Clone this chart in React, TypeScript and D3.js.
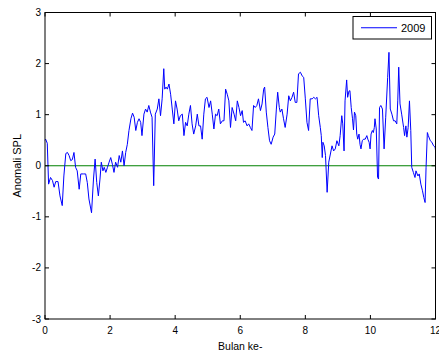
import React from "react";
import * as d3 from "d3";

// Monthly index (0–12) and SPL anomaly for 2009
const months: number[] = [
  0, 0.02, 0.07, 0.11, 0.17, 0.23, 0.28, 0.33, 0.4, 0.46, 0.53, 0.58, 0.64, 0.69, 0.74, 0.79, 0.84, 0.89,
  0.94, 0.99, 1.05, 1.1, 1.18, 1.25, 1.3, 1.35, 1.43, 1.49, 1.54, 1.59, 1.64, 1.69, 1.73, 1.78, 1.82,
  1.87, 1.92, 1.97, 2.02, 2.07, 2.12, 2.17, 2.23, 2.28, 2.33, 2.38, 2.43, 2.48, 2.53, 2.58, 2.64, 2.69,
  2.74, 2.79, 2.84, 2.89, 2.94, 2.98,
  3.04, 3.09, 3.14, 3.19, 3.24, 3.29, 3.34, 3.39, 3.45, 3.5, 3.55, 3.6, 3.65, 3.68, 3.72, 3.76, 3.81,
  3.86, 3.91, 3.96, 4.01, 4.06, 4.11, 4.16, 4.22, 4.27, 4.32, 4.37, 4.42, 4.47, 4.52, 4.57, 4.63, 4.68,
  4.73, 4.78, 4.83, 4.88, 4.93, 4.98, 5.04, 5.09, 5.14, 5.19, 5.24, 5.29, 5.34, 5.39, 5.45, 5.5, 5.55,
  5.6, 5.65, 5.7, 5.75, 5.81, 5.86, 5.91, 5.96, 6.01, 6.06,
  6.1, 6.15, 6.21, 6.26, 6.31, 6.36, 6.41, 6.46, 6.51, 6.56, 6.62, 6.67, 6.72, 6.75, 6.8, 6.85, 6.9,
  6.95, 7.01, 7.06, 7.11, 7.15, 7.2, 7.23, 7.28, 7.33, 7.38, 7.44, 7.49, 7.54, 7.59, 7.64, 7.69, 7.74,
  7.79, 7.85, 7.9, 7.95, 8.0, 8.05, 8.1, 8.15, 8.21, 8.26, 8.31, 8.36, 8.41, 8.46, 8.49, 8.52, 8.54,
  8.58, 8.62, 8.67, 8.72, 8.77, 8.82, 8.87, 8.92, 8.97, 9.03,
  9.07, 9.12, 9.15, 9.19, 9.22, 9.27, 9.3, 9.34, 9.37, 9.41, 9.45, 9.48, 9.51, 9.55, 9.58, 9.61, 9.65,
  9.68, 9.71, 9.75, 9.79, 9.84, 9.89, 9.92, 9.96, 9.99, 10.02, 10.06, 10.09, 10.12, 10.14, 10.18, 10.22,
  10.25, 10.28, 10.32, 10.37, 10.42, 10.47, 10.53, 10.57, 10.61, 10.66, 10.71, 10.76, 10.81, 10.84,
  10.87, 10.91, 10.96, 11.02, 11.05, 11.09, 11.12, 11.16, 11.2, 11.24, 11.27, 11.32, 11.37, 11.4, 11.46,
  11.5, 11.55, 11.6, 11.64, 11.68, 11.71, 11.75, 11.78, 11.84, 11.89, 11.94, 11.99, 12,
];

const anomaly2009: number[] = [
  0.5, 0.52, 0.44, -0.36, -0.23, -0.29, -0.42, -0.31, -0.31, -0.59, -0.78, -0.2, 0.24, 0.26, 0.2, 0.1,
  0.12, 0.26, -0.03, -0.1, -0.46, -0.16, -0.16, -0.16, -0.33, -0.65, -0.92, -0.26, 0.13, -0.33, -0.59,
  -0.26, 0.07, -0.1, -0.03, -0.13, -0.03, 0.07, 0.16, 0.03, -0.13, 0.07, -0.03, 0.2, 0.07, 0.29, 0.0,
  0.26, 0.42, 0.69, 0.92, 1.03, 0.95, 0.69, 0.85, 0.92, 0.85, 0.59,
  1.01, 1.11, 1.05, 1.18, 1.05, 0.95, -0.39, 1.01, 1.11, 1.31, 0.98, 1.31, 1.9, 1.5, 1.54, 1.5, 1.6,
  1.4, 1.11, 0.82, 1.27, 1.11, 0.88, 0.98, 1.01, 0.59, 0.85, 0.78, 1.01, 1.18, 0.82, 0.62, 0.78, 1.01,
  0.78, 0.78, 0.52, 1.01, 1.31, 1.34, 1.14, 1.27, 1.01, 0.72, 1.01, 0.98, 1.11, 0.82, 0.88, 0.88, 1.5,
  1.4, 1.27, 0.75, 1.14, 1.01, 0.88, 1.27, 1.14, 0.98, 1.08,
  0.85, 0.88, 0.78, 0.82, 0.75, 0.69, 1.18, 1.14, 1.18, 1.31, 1.08, 1.21, 1.5, 1.54, 1.05, 0.75, 0.49,
  0.42, 0.56, 0.62, 1.11, 1.44, 1.14, 1.05, 1.11, 0.92, 0.75, 1.01, 1.37, 1.27, 1.34, 1.44, 1.24, 1.24,
  1.8, 1.83, 1.76, 1.73, 1.31, 0.85, 0.69, 1.31, 1.31, 1.34, 1.31, 1.34, 0.98, 0.75, 0.59, 0.16, 0.46,
  0.39, 0.2, -0.52, 0.07, 0.23, 0.39, 0.29, 0.33, 0.49, 0.39,
  0.59, 0.98, 0.82, 0.29, 1.27, 1.68, 1.34, 1.46, 1.47, 1.14, 0.92, 0.7, 1.05, 0.98, 0.62, 0.52, 0.62,
  0.42, 0.33, 0.49, 0.52, 0.52, 0.59, 0.52, 0.46, 0.33, 0.62, 0.69, 0.65, 0.75, 0.92, 0.72, -0.23,
  -0.26, 1.14, 1.18, 1.11, 0.33, 0.95, 1.73, 2.22, 1.11, 1.01, 0.88, 0.88, 0.82, 1.27, 1.93, 1.21, 1.01,
  0.75, 0.59, 0.78, 0.56, 0.75, 1.27, 0.69, -0.03, -0.13, -0.23, -0.1, -0.2, -0.16, -0.36, -0.49, -0.62,
  -0.72, -0.03, 0.65, 0.59, 0.49, 0.46, 0.39, 0.36, 0.3,
];

const xTicks: number[] = [0, 2, 4, 6, 8, 10, 12];
const yTicks: number[] = [-3, -2, -1, 0, 1, 2, 3];
const seriesName = "2009";

const W = 439;
const H = 356;
const margin = { left: 45, right: 3.5, top: 12.5, bottom: 37 };
const FONT = "'Liberation Sans', Arial, sans-serif";

export default function App() {
  const x = d3.scaleLinear().domain([0, 12]).range([margin.left, W - margin.right]);
  const y = d3.scaleLinear().domain([-3, 3]).range([H - margin.bottom, margin.top]);

  const points: [number, number][] = months.map((m, i) => [m, anomaly2009[i]]);
  const line = d3
    .line<[number, number]>()
    .x((d) => x(d[0]))
    .y((d) => y(d[1]));

  const x0 = x(0);
  const x1 = x(12);
  const yTop = y(3);
  const yBot = y(-3);
  const tl = 4;

  const legX = 353;
  const legY = 16.5;
  const legW = 78.5;
  const legH = 22.5;

  return (
    <svg
      width={W}
      height={H}
      style={{ position: "absolute", left: 0, top: 0, background: "#fff" }}
      fontFamily={FONT}
    >
      <rect x={0} y={0} width={W} height={H} fill="#fff" />

      {/* zero reference */}
      <line x1={x0} x2={x1} y1={y(0)} y2={y(0)} stroke="#008000" strokeWidth={1} />

      {/* anomaly series */}
      <path d={line(points) ?? ""} fill="none" stroke="#0000ff" strokeWidth={1} strokeLinejoin="round" />

      {/* axes box */}
      <rect x={x0} y={yTop} width={x1 - x0} height={yBot - yTop} fill="none" stroke="#000" strokeWidth={1} />

      {/* x ticks */}
      {xTicks.map((t) => (
        <g key={`x${t}`}>
          <line x1={x(t)} x2={x(t)} y1={yBot} y2={yBot - tl} stroke="#000" />
          <line x1={x(t)} x2={x(t)} y1={yTop} y2={yTop + tl} stroke="#000" />
          <text x={x(t)} y={yBot + 15} fontSize={10} textAnchor="middle" fill="#000">
            {t}
          </text>
        </g>
      ))}

      {/* y ticks */}
      {yTicks.map((t) => (
        <g key={`y${t}`}>
          <line x1={x0} x2={x0 + tl} y1={y(t)} y2={y(t)} stroke="#000" />
          <line x1={x1} x2={x1 - tl} y1={y(t)} y2={y(t)} stroke="#000" />
          <text x={x0 - 4} y={y(t) + 3.5} fontSize={10} textAnchor="end" fill="#000">
            {t}
          </text>
        </g>
      ))}

      {/* axis titles */}
      <text x={(x0 + x1) / 2} y={350} fontSize={10.5} textAnchor="middle" fill="#000">
        Bulan ke-
      </text>
      <text
        transform={`translate(21, ${y(0)}) rotate(-90)`}
        fontSize={11}
        textAnchor="middle"
        fill="#000"
      >
        Anomali SPL
      </text>

      {/* legend */}
      <rect x={legX} y={legY} width={legW} height={legH} fill="#fff" stroke="#000" strokeWidth={1} />
      <line x1={361} x2={397} y1={legY + legH / 2} y2={legY + legH / 2} stroke="#0000ff" />
      <text x={401} y={legY + legH / 2 + 4} fontSize={11} fill="#000">
        {seriesName}
      </text>
    </svg>
  );
}
